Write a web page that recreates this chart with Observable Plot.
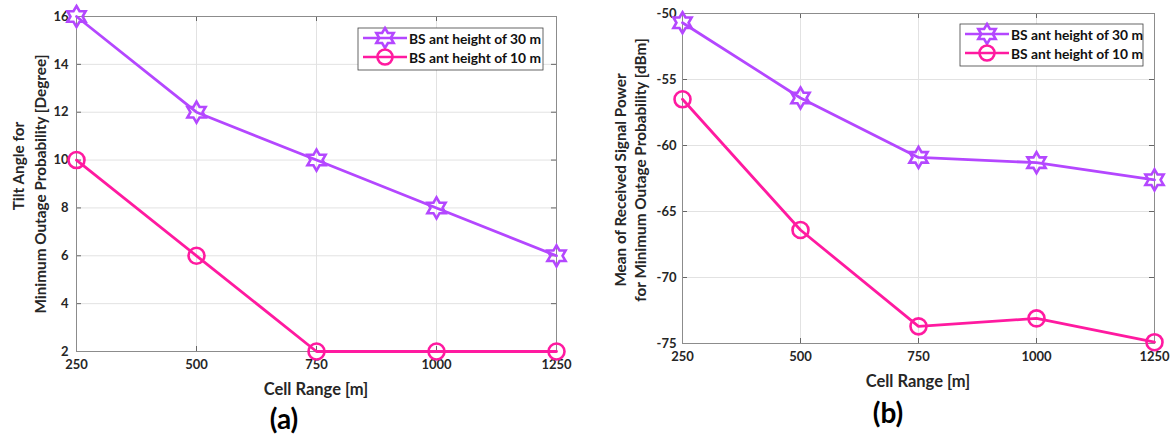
<!DOCTYPE html>
<html><head><meta charset="utf-8">
<script src="https://cdn.jsdelivr.net/npm/d3@7"></script>
<script src="https://cdn.jsdelivr.net/npm/@observablehq/plot@0.6"></script>
<style>
body{margin:0;background:#fff;}
#wrap{position:relative;width:1172px;height:437px;overflow:hidden;background:#fff;}
#wrap > svg{position:absolute;top:0;}
</style></head><body><div id="wrap"></div>
<script>
const cellRange = [250, 500, 750, 1000, 1250];
const seriesNames = ["BS ant height of 30 m", "BS ant height of 10 m"];
const tiltH30 = [16, 12, 10, 8, 6];
const tiltH10 = [10, 6, 2, 2, 2];
const powerH30 = [-50.7, -56.4, -60.9, -61.3, -62.6];
const powerH10 = [-56.5, -66.4, -73.7, -73.1, -74.9];
const tiltTicks = [2, 4, 6, 8, 10, 12, 14, 16];
const powerTicks = [-75, -70, -65, -60, -55, -50];
const colors = ["#B447FF", "#FF1AA0"];
const FONT = "Lato, 'Open Sans', sans-serif";

const hexagram = {
  draw(ctx, size) {
    const R = Math.sqrt(size / Math.PI), r = R / Math.sqrt(3);
    for (let i = 0; i < 12; i++) {
      const a = -Math.PI / 2 + i * Math.PI / 6, rr = i % 2 ? r : R;
      const x = rr * Math.cos(a), y = rr * Math.sin(a);
      i ? ctx.lineTo(x, y) : ctx.moveTo(x, y);
    }
    ctx.closePath();
  }
};

function panel(o) {
  const H = 437;
  const fw = o.width - o.ml - o.mr, fh = H - o.mt - o.mb;
  const s30 = cellRange.map((x, i) => ({x, y: o.v30[i]}));
  const s10 = cellRange.map((x, i) => ({x, y: o.v10[i]}));
  const svg = Plot.plot({
    width: o.width, height: H,
    marginLeft: o.ml, marginRight: o.mr, marginTop: o.mt, marginBottom: o.mb,
    style: {fontFamily: FONT, fontWeight: "bold", fontSize: "13px", color: "#262626", background: "white"},
    x: {domain: [250, 1250]},
    y: {domain: o.yDomain},
    marks: [
      Plot.gridX(cellRange, {stroke: "#e2e2e2", strokeOpacity: 1}),
      Plot.gridY(o.yTicks, {stroke: "#e2e2e2", strokeOpacity: 1}),
      Plot.tickX(cellRange, {x: d => d, insetTop: fh - 5, stroke: "#666"}),
      Plot.tickX(cellRange, {x: d => d, insetBottom: fh - 5, stroke: "#666"}),
      Plot.tickY(o.yTicks, {y: d => d, insetRight: fw - 5, stroke: "#666"}),
      Plot.tickY(o.yTicks, {y: d => d, insetLeft: fw - 5, stroke: "#666"}),
      Plot.frame({stroke: "#8c8c8c"}),
      Plot.axisX({ticks: cellRange, tickSize: 0, tickPadding: 8, label: null, tickFormat: d => String(d)}),
      Plot.axisY({ticks: o.yTicks, tickSize: 0, tickPadding: o.yPad, label: null, tickFormat: d => String(d)}),
      Plot.line(s30, {x: "x", y: "y", stroke: colors[0], strokeWidth: 2.8}),
      Plot.line(s10, {x: "x", y: "y", stroke: colors[1], strokeWidth: 2.8}),
      Plot.dot(s30, {x: "x", y: "y", stroke: colors[0], symbol: hexagram, r: 10.5, strokeWidth: 2.6, fill: "none"}),
      Plot.dot(s10, {x: "x", y: "y", stroke: colors[1], symbol: "circle", r: 8, strokeWidth: 2.6, fill: "none"})
    ]
  });
  const g = d3.select(svg);
  const txt = (x, y, t, size, rot) => g.append("text")
    .attr("transform", `translate(${x},${y})` + (rot ? " rotate(-90)" : ""))
    .attr("text-anchor", "middle").attr("dominant-baseline", "central")
    .attr("font-family", FONT).attr("font-weight", "bold").attr("font-size", size)
    .attr("fill", "#262626").text(t);
  txt(o.xLab[0], o.xLab[1], "Cell Range [m]", 16.5);
  txt(o.tag[0], o.tag[1], o.tagText, 28).attr("fill", "#000");
  txt(o.y1[0], o.y1[1], o.yLab1, 15.3, true);
  txt(o.y2[0], o.y2[1], o.yLab2, 15.3, true);
  // legend
  const [lx, ly, lw, lh] = o.legend;
  g.append("rect").attr("x", lx).attr("y", ly).attr("width", lw).attr("height", lh)
    .attr("fill", "white").attr("stroke", "#404040").attr("stroke-width", 0.8);
  seriesNames.forEach((name, i) => {
    const yy = ly + 10 + i * 19;
    g.append("line").attr("x1", lx + 5).attr("x2", lx + 49).attr("y1", yy).attr("y2", yy)
      .attr("stroke", colors[i]).attr("stroke-width", 2.6);
    const p = d3.path();
    if (i === 0) hexagram.draw(p, Math.PI * 10 * 10);
    else p.arc(0, 0, 7.5, 0, 2 * Math.PI);
    g.append("path").attr("d", p.toString()).attr("transform", `translate(${lx + 27},${yy})`)
      .attr("fill", "none").attr("stroke", colors[i]).attr("stroke-width", 2.6);
    g.append("text").attr("x", lx + 51).attr("y", yy).attr("dominant-baseline", "central")
      .attr("text-anchor", "start")
      .attr("font-family", FONT).attr("font-weight", "bold").attr("font-size", 13.8)
      .attr("fill", "#111").text(name);
  });
  svg.style.left = o.left + "px";
  document.getElementById("wrap").appendChild(svg);
}

panel({
  left: 0, width: 586, ml: 76, mr: 30, mt: 16, mb: 86, yPad: 8,
  yDomain: [2, 16], yTicks: tiltTicks, v30: tiltH30, v10: tiltH10,
  xLab: [316, 389], tag: [284, 418], tagText: "(a)",
  yLab1: "Tilt Angle for", yLab2: "Minimum Outage Probability [Degree]",
  y1: [18, 166], y2: [40, 184],
  legend: [358, 28, 185, 42]
});
panel({
  left: 586, width: 586, ml: 96, mr: 18, mt: 13, mb: 94, yPad: 6,
  yDomain: [-75, -50], yTicks: powerTicks, v30: powerH30, v10: powerH10,
  xLab: [332, 381], tag: [302, 412], tagText: "(b)",
  yLab1: "Mean of Received Signal Power", yLab2: "for Minimum Outage Probability [dBm]",
  y1: [34, 180], y2: [54, 170],
  legend: [374, 24, 183, 42]
});
</script></body></html>
